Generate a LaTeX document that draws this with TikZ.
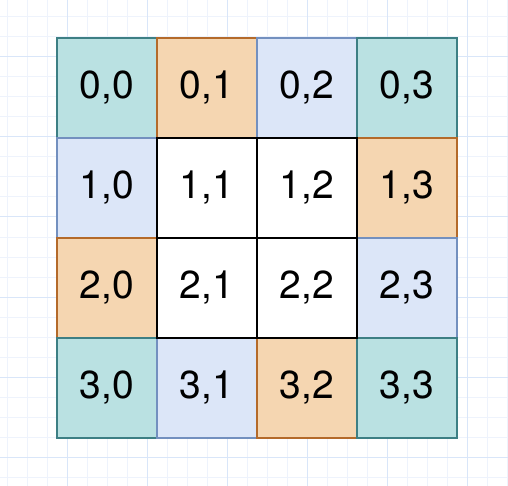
\documentclass[tikz,border=0pt]{standalone}
\usepackage{fontspec}
\setmainfont{TeX Gyre Heros}
\definecolor{tealfill}{HTML}{BAE1E2}
\definecolor{tealline}{HTML}{3D7F84}
\definecolor{orgfill}{HTML}{F5D6B1}
\definecolor{orgline}{HTML}{B46A2A}
\definecolor{bluefill}{HTML}{DCE6F8}
\definecolor{blueline}{HTML}{7390BF}
\definecolor{gridminor}{HTML}{EEF3FC}
\definecolor{gridmajor}{HTML}{D9E6F9}
\begin{document}
\begin{tikzpicture}[x=1pt,y=-1pt,
  minorline/.style={draw=gridminor,line width=1pt},
  majorline/.style={draw=gridmajor,line width=1pt},
  cell/.style={minimum width=100pt,minimum height=100pt,inner sep=0pt,outer sep=0pt,
    font=\fontsize{39}{39}\selectfont,line width=1.5pt},
  tealcell/.style={cell,fill=tealfill,draw=tealline},
  orgcell/.style={cell,fill=orgfill,draw=orgline},
  bluecell/.style={cell,fill=bluefill,draw=blueline},
  whitecell/.style={cell,fill=white,draw=black,line width=2pt}]
\useasboundingbox (0,0) rectangle (508,486);
\fill[white] (0,0) rectangle (508,486);
\foreach \x in {7,27,...,507} \draw[minorline] (\x,0) -- (\x,486);
\foreach \y in {17,37,...,477} \draw[minorline] (0,\y) -- (508,\y);
\foreach \x in {67,147,227,307,387,467} \draw[majorline] (\x,0) -- (\x,486);
\foreach \y in {57,137,217,297,377,457} \draw[majorline] (0,\y) -- (508,\y);
% row 0
\node[tealcell] (c00) at (107,88) {0,0};
\node[orgcell]  (c01) at (207,88) {0,1};
\node[bluecell] (c02) at (307,88) {0,2};
\node[tealcell] (c03) at (407,88) {0,3};
% row 1
\node[bluecell] (c10) at (107,188) {1,0};
\node[orgcell]  (c13) at (407,188) {1,3};
% row 2
\node[orgcell]  (c20) at (107,288) {2,0};
\node[bluecell] (c23) at (407,288) {2,3};
% row 3
\node[tealcell] (c30) at (107,388) {3,0};
\node[bluecell] (c31) at (207,388) {3,1};
\node[orgcell]  (c32) at (307,388) {3,2};
\node[tealcell] (c33) at (407,388) {3,3};
% inner white cells
\node[whitecell] (c11) at (207,188) {1,1};
\node[whitecell] (c12) at (307,188) {1,2};
\node[whitecell] (c21) at (207,288) {2,1};
\node[whitecell] (c22) at (307,288) {2,2};
\end{tikzpicture}
\end{document}
